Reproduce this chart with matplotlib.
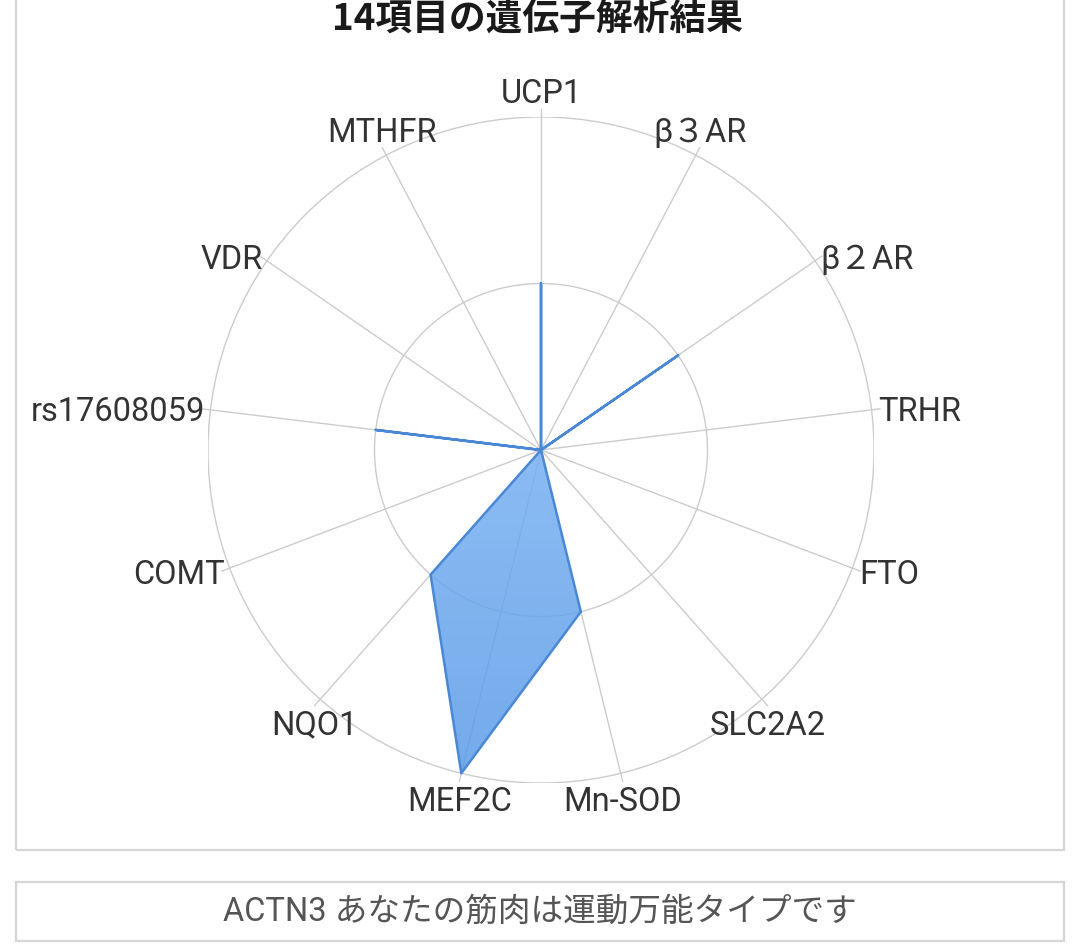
import numpy as np
import matplotlib.pyplot as plt
from matplotlib.patches import Circle, Polygon, Rectangle
from matplotlib.colors import LinearSegmentedColormap

plt.rcParams['font.family'] = ['Roboto', 'Noto Sans CJK JP', 'DejaVu Sans']

title = '14項目の遺伝子解析結果'
genes = ['UCP1', 'β３AR', 'β２AR', 'TRHR', 'FTO', 'SLC2A2', 'Mn-SOD',
         'MEF2C', 'NQO1', 'COMT', 'rs17608059', 'VDR', 'MTHFR']
scores = [1, 0, 1, 0, 0, 0, 1, 2, 1, 0, 1, 0, 0]
levels = [1, 2]
note = 'ACTN3 あなたの筋肉は運動万能タイプです'

grid_color = '#cccccc'
line_color = '#4a88d6'
fill_cmap = LinearSegmentedColormap.from_list('fill', ['#93c4fa', '#5a9be8'])

W, H = 1080, 951
fig = plt.figure(figsize=(W / 100, H / 100), dpi=100)

# card frames
fig.patches.append(Rectangle((16 / W, 1 - 850 / H), 1048 / W, 860 / H,
                             transform=fig.transFigure, fill=False,
                             ec='#d6d6d6', lw=1.6))
fig.patches.append(Rectangle((16 / W, 1 - 941 / H), 1048 / W, 59 / H,
                             transform=fig.transFigure, fill=False,
                             ec='#d6d6d6', lw=1.6))

cx, cy, R = 541, 450, 333
ax = fig.add_axes([(cx - R) / W, 1 - (cy + R) / H, 2 * R / W, 2 * R / H])
rmax = max(levels)

n = len(genes)
ang = np.arange(n) * 2 * np.pi / n
vals = np.array(scores, dtype=float)
px = vals * np.sin(ang)
py = vals * np.cos(ang)

for lv in levels:
    ax.add_patch(Circle((0, 0), lv, fill=False, ec=grid_color, lw=1.0, zorder=1))

spoke = rmax * 1.025
for a in ang:
    ax.plot([0, spoke * np.sin(a)], [0, spoke * np.cos(a)], color=grid_color,
            lw=1.0, zorder=1, clip_on=False)

poly = Polygon(np.column_stack([px, py]), closed=True, fc='none',
               ec=line_color, lw=1.8, joinstyle='round', zorder=4)
ax.add_patch(poly)
grad = np.linspace(0, 1, 256).reshape(-1, 1)
im = ax.imshow(grad, extent=(-rmax, rmax, -rmax, rmax), cmap=fill_cmap,
               aspect='auto', alpha=0.85, zorder=3)
im.set_clip_path(poly)

for a, name in zip(ang, genes):
    s, c = np.sin(a), np.cos(a)
    if abs(s) < 0.7:
        ha = 'center'
        va = 'baseline' if c > 0 else 'top'
        off = (0, 4 if c > 0 else -3)
    else:
        ha = 'left' if s > 0 else 'right'
        va = 'center_baseline'
        off = (-1 if s > 0 else 2, 0)
    ax.annotate(name, xy=(spoke * s, spoke * c), xytext=off,
                textcoords='offset points', ha=ha, va=va, fontsize=23.5,
                color='#333333', annotation_clip=False)

ax.set_xlim(-rmax, rmax)
ax.set_ylim(-rmax, rmax)
ax.axis('off')

fig.text(537 / W, 1 - 19 / H, title, ha='center', va='center', fontsize=26.5,
         fontweight='bold', color='#1a1a1a',
         family=['Noto Sans CJK JP', 'DejaVu Sans'])
fig.text(540 / W, 1 - 912 / H, note, ha='center', va='center', fontsize=23.5,
         color='#555555')

fig.savefig('out.png', dpi=100, facecolor='white')
